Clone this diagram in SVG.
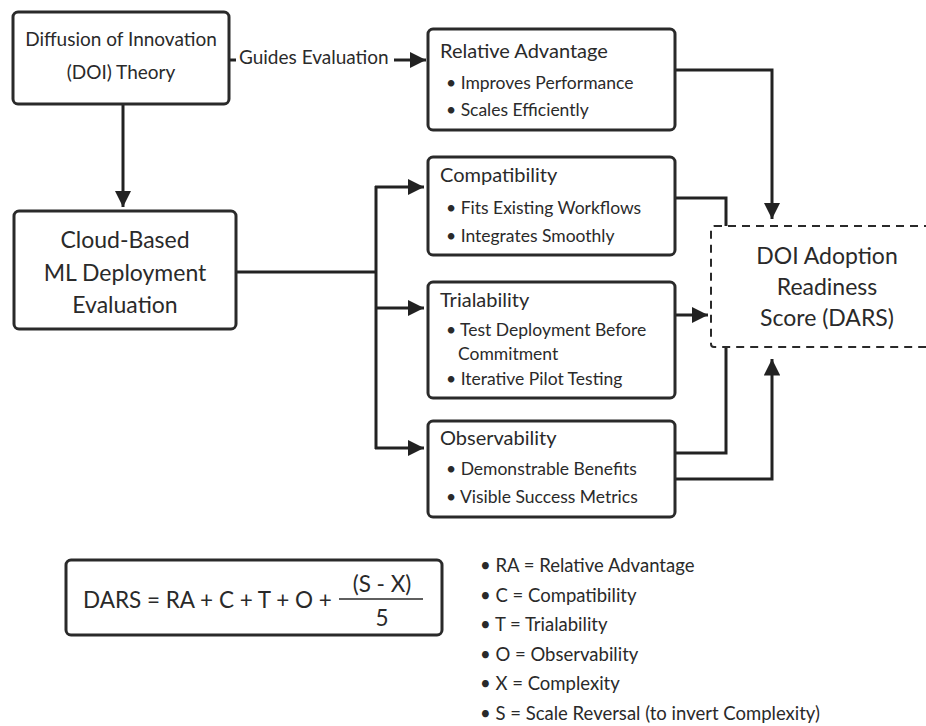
<svg xmlns="http://www.w3.org/2000/svg" width="926" height="726" viewBox="0 0 926 726">
<style>
.box{fill:#fff;stroke:#2a2a2a;stroke-width:3}
.dash{fill:#fff;stroke:#2a2a2a;stroke-width:2;stroke-dasharray:8 6}
.ln{fill:none;stroke:#222;stroke-width:3}
text{font-family:"Lato","Open Sans","Liberation Sans",sans-serif;fill:#2a2a2a}
.t1{font-size:19px}
.t2{font-size:23px}
.ti{font-size:20px}
.bu{font-size:17.5px}
.lg{font-size:18.5px}
.fm{font-size:22.5px}
.c{text-anchor:middle}
</style>
<defs>
<marker id="ah" viewBox="0 0 10 10" refX="10" refY="5" markerWidth="5.5" markerHeight="5.5" markerUnits="strokeWidth" orient="auto">
<path d="M0,0 L10,5 L0,10 z" fill="#222"/>
</marker>
</defs>
<rect width="926" height="726" fill="#fff"/>
<g id="connectors">
<line class="ln" x1="123" y1="104" x2="123" y2="207" marker-end="url(#ah)"/>
<line class="ln" x1="229" y1="60" x2="236" y2="60"/>
<line class="ln" x1="394" y1="60" x2="426" y2="60" marker-end="url(#ah)"/>
<text class="t1" x="239" y="64">Guides Evaluation</text>
<line class="ln" x1="236" y1="272" x2="376" y2="272"/>
<line class="ln" x1="376" y1="186" x2="376" y2="449"/>
<line class="ln" x1="375" y1="187" x2="424" y2="187" marker-end="url(#ah)"/>
<line class="ln" x1="375" y1="308" x2="424" y2="308" marker-end="url(#ah)"/>
<line class="ln" x1="375" y1="448" x2="424" y2="448" marker-end="url(#ah)"/>
<polyline class="ln" points="675,70 772,70 772,219" marker-end="url(#ah)"/>
<polyline class="ln" points="675,198 726,198 726,226"/>
<line class="ln" x1="675" y1="315" x2="708" y2="315" marker-end="url(#ah)"/>
<polyline class="ln" points="675,453 726,453 726,347"/>
<polyline class="ln" points="675,479 772,479 772,359" marker-end="url(#ah)"/>
</g>
<g id="doi">
<rect class="box" x="13" y="12" width="216" height="92" rx="5"/>
<text class="t1 c" x="121" y="46">Diffusion of Innovation</text>
<text class="t1 c" x="121" y="79">(DOI) Theory</text>
</g>
<g id="cloud">
<rect class="box" x="14" y="211" width="222" height="118" rx="5"/>
<text class="t2 c" x="125" y="248">Cloud-Based</text>
<text class="t2 c" x="125" y="281">ML Deployment</text>
<text class="t2 c" x="125" y="313">Evaluation</text>
</g>
<g id="ra">
<rect class="box" x="428" y="29" width="247" height="101" rx="5"/>
<text class="ti" x="440" y="58">Relative Advantage</text>
<text class="bu" x="446" y="89">• Improves Performance</text>
<text class="bu" x="446" y="116">• Scales Efficiently</text>
</g>
<g id="compat">
<rect class="box" x="428" y="157" width="247" height="98" rx="5"/>
<text class="ti" x="440" y="182">Compatibility</text>
<text class="bu" x="446" y="214">• Fits Existing Workflows</text>
<text class="bu" x="446" y="242">• Integrates Smoothly</text>
</g>
<g id="trial">
<rect class="box" x="428" y="282" width="247" height="116" rx="5"/>
<text class="ti" x="440" y="307">Trialability</text>
<text class="bu" x="446" y="336">• Test Deployment Before</text>
<text class="bu" x="458" y="360">Commitment</text>
<text class="bu" x="446" y="385">• Iterative Pilot Testing</text>
</g>
<g id="observ">
<rect class="box" x="428" y="421" width="247" height="96" rx="5"/>
<text class="ti" x="440" y="445">Observability</text>
<text class="bu" x="446" y="475">• Demonstrable Benefits</text>
<text class="bu" x="446" y="503">• Visible Success Metrics</text>
</g>
<g id="dars">
<rect class="dash" x="711" y="226" width="225" height="121" rx="3"/>
<text class="t2 c" x="827" y="264">DOI Adoption</text>
<text class="t2 c" x="827" y="295">Readiness</text>
<text class="t2 c" x="827" y="326">Score (DARS)</text>
</g>
<g id="formula">
<rect class="box" x="66" y="560" width="376" height="75" rx="5"/>
<text class="fm" x="83" y="608">DARS = RA + C + T + O +</text>
<text class="fm c" x="382" y="592">(S - X)</text>
<line x1="339" y1="599" x2="423" y2="599" stroke="#2a2a2a" stroke-width="1.5"/>
<text class="fm c" x="382" y="626">5</text>
</g>
<g id="legend">
<text class="lg" x="480" y="572">• RA = Relative Advantage</text>
<text class="lg" x="480" y="602">• C = Compatibility</text>
<text class="lg" x="480" y="631">• T = Trialability</text>
<text class="lg" x="480" y="661">• O = Observability</text>
<text class="lg" x="480" y="690">• X = Complexity</text>
<text class="lg" x="480" y="720">• S = Scale Reversal (to invert Complexity)</text>
</g>
</svg>
